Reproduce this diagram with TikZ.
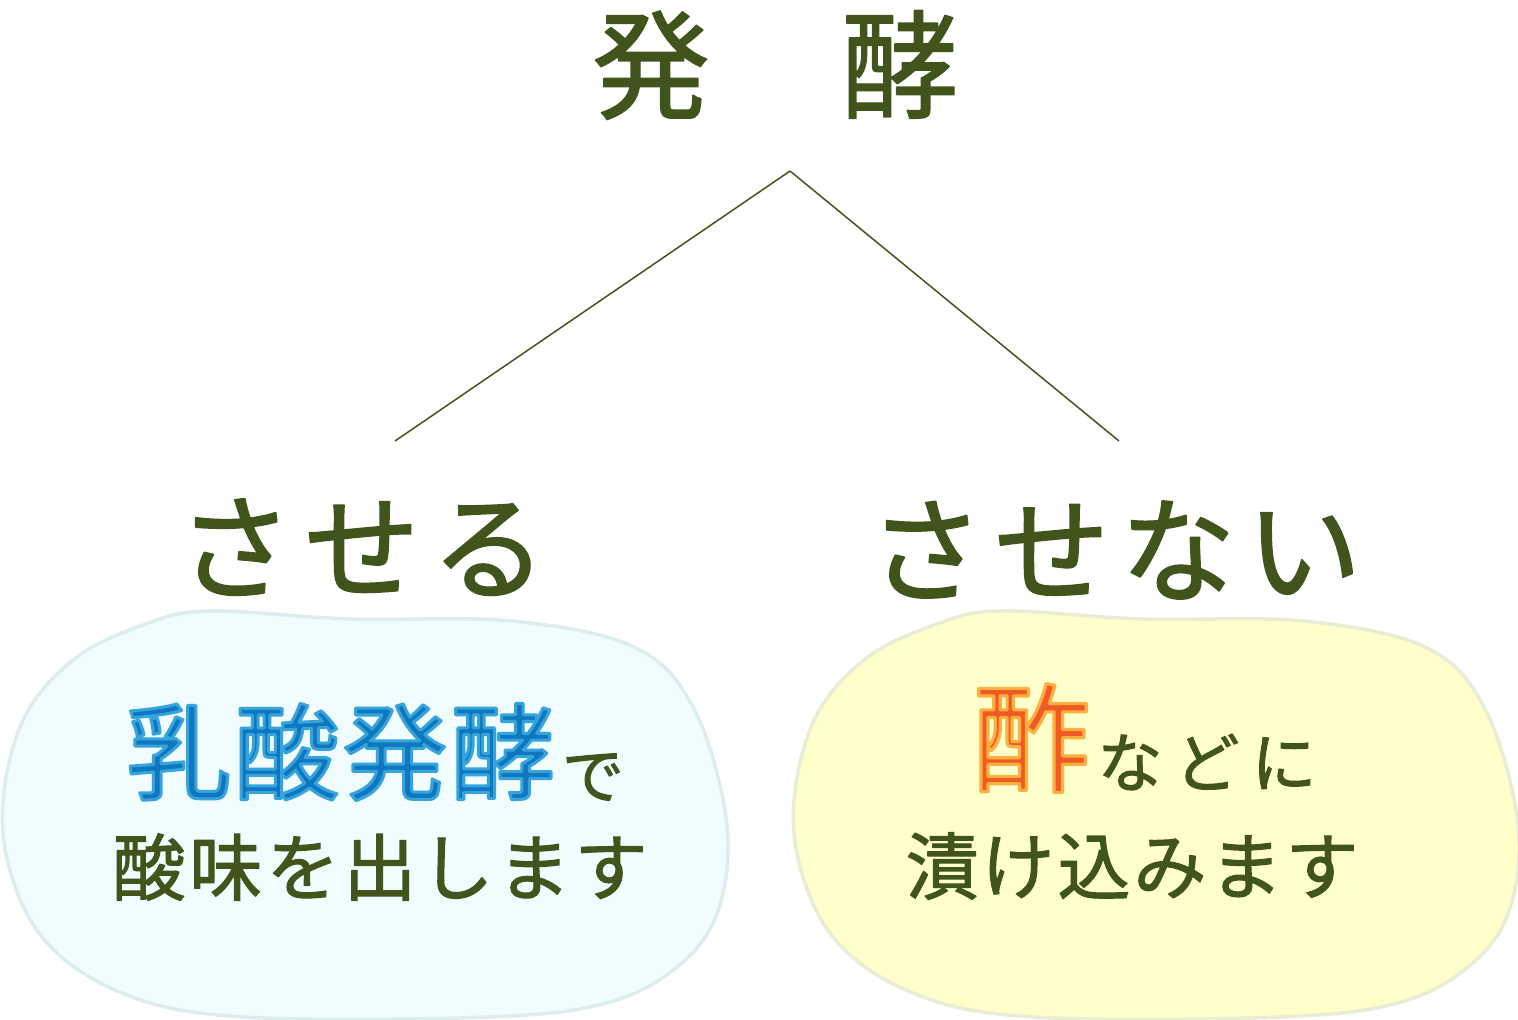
\documentclass[tikz,border=0pt]{standalone}
\usepackage{fontspec}
\setmainfont{Noto Sans CJK JP}
\definecolor{txtgreen}{HTML}{40541C}
\definecolor{bluefill}{HTML}{0F77C0}
\definecolor{orangefill}{HTML}{F15A24}
\definecolor{blobAfill}{HTML}{F0FCFD}
\definecolor{blobAline}{HTML}{DDECEC}
\definecolor{blobBfill}{HTML}{FFFFCC}
\definecolor{blobBline}{HTML}{E8EDD3}
\newcommand\myfs[1]{\fontsize{#1pt}{#1pt}\selectfont}
% outline (fill + stroke) text rendering
\newcommand\ringon[2]{\special{pdf:literal direct 2 Tr #1 w 1 j 1 J #2 RG}}
\newcommand\thickon[1]{\special{pdf:literal direct 2 Tr #1 w 1 j 1 J}}
\newcommand\ringoff{\special{pdf:literal direct 0 Tr}}
\begin{document}
\begin{tikzpicture}[x=1pt,y=-1pt,
  txt/.style={inner sep=0pt, outer sep=0pt, text=txtgreen},
  link/.style={draw=txtgreen, line width=1.5pt},
  blobA/.style={fill=blobAfill, draw=blobAline, line width=3.5pt},
  blobB/.style={fill=blobBfill, draw=blobBline, line width=3.5pt},
  ringtxt/.style={inner sep=0pt, outer sep=0pt}]
\useasboundingbox (0,0) rectangle (1518,1020);

% blobs
\path[blobA] plot[smooth cycle, tension=0.6] coordinates {
  (210,611) (350,619) (512,621) (634,647) (693,707) (726,817) (720,905)
  (683,962) (610,1002) (488,1017) (244,1017) (122,993) (39,933) (3,833)
  (20,727) (73,660) (146,624)};
\begin{scope}[shift={(791,0)}]
\path[blobB] plot[smooth cycle, tension=0.6] coordinates {
  (210,611) (350,619) (512,621) (634,647) (693,707) (726,817) (720,905)
  (683,962) (610,1002) (488,1017) (244,1017) (122,993) (39,933) (3,833)
  (20,727) (73,660) (146,624)};
\end{scope}

% title and branches
\node[txt, font=\myfs{118}] (title) at (775.5,65) {\thickon{1.4}発\kern131pt酵\ringoff};
\node[txt, font=\myfs{115}] (yes) at (362,547) {\thickon{1.8}さ\kern12ptせ\kern12ptる\ringoff};
\node[txt, font=\myfs{115}] (no) at (1115,550) {\thickon{1.8}さ\kern11ptせ\kern11ptな\kern11ptい\ringoff};

\coordinate (apex) at (790,171);
\coordinate (lfoot) at (395,441);
\coordinate (rfoot) at (1119,441);
\draw[link] (apex) -- (lfoot);
\draw[link] (apex) -- (rfoot);

% left blob text
\node[ringtxt, text=bluefill, font=\myfs{105}] (lactic) at (341,752)
  {\ringon{3.0}{0.212 0.643 0.863}乳\kern3pt酸\kern3pt発\kern3pt酵\ringoff};
\node[txt, font=\myfs{62}] (de) at (593,777) {\thickon{1}で\ringoff};
\node[txt, font=\myfs{73}] (sour) at (380,867) {\thickon{1.1}酸\kern4pt味\kern4ptを\kern4pt出\kern4ptし\kern4ptま\kern4ptす\ringoff};

% right blob text
\node[ringtxt, text=orangefill, font=\myfs{118}] (vinegar) at (1032,738)
  {\ringon{3.2}{0.984 0.690 0.251}酢\ringoff};
\node[txt, font=\myfs{65}] (nado) at (1207,762) {\thickon{1}な\kern12ptど\kern12ptに\ringoff};
\node[txt, font=\myfs{73}] (pickle) at (1132,866) {\thickon{1.1}漬\kern3ptけ\kern3pt込\kern3ptみ\kern3ptま\kern3ptす\ringoff};
\end{tikzpicture}
\end{document}
